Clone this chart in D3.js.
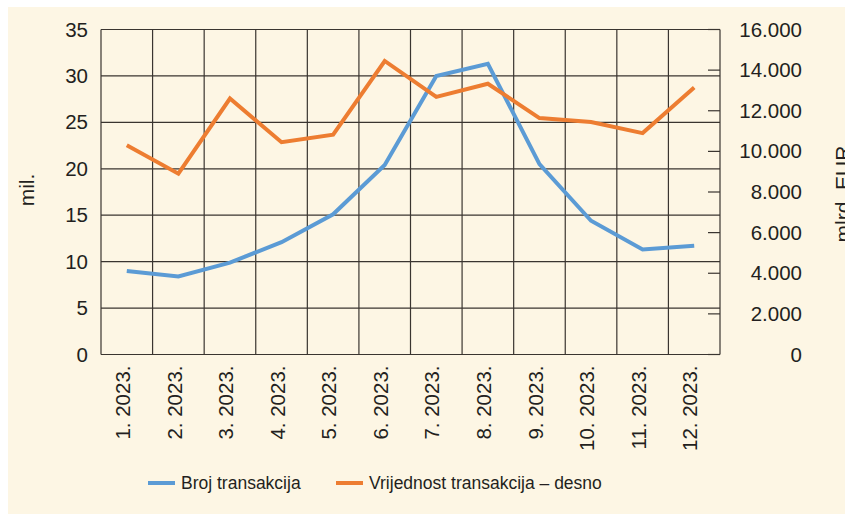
<!DOCTYPE html>
<meta charset="utf-8">
<style>
  body { margin: 0; background: #fff; }
  text { font-family: "Liberation Sans", Arial, sans-serif; fill: #231f20; }
  .tick text { font-size: 20.5px; }
</style>
<script src="https://d3js.org/d3.v7.min.js"></script>
<body>
<script>
  var months = ["1. 2023.", "2. 2023.", "3. 2023.", "4. 2023.", "5. 2023.", "6. 2023.",
                "7. 2023.", "8. 2023.", "9. 2023.", "10. 2023.", "11. 2023.", "12. 2023."];
  // broj transakcija, mil.
  var brojTransakcija = [9.0, 8.4, 9.9, 12.1, 15.1, 20.4, 30.0, 31.3, 20.5, 14.4, 11.3, 11.7];
  // vrijednost transakcija, mlrd. EUR (desno)
  var vrijednost = [10300, 8900, 12600, 10450, 10820, 14450, 12680, 13330, 11640, 11450, 10900, 13140];
  var leftTicks = [0, 5, 10, 15, 20, 25, 30, 35];
  var rightTicks = [0, 2000, 4000, 6000, 8000, 10000, 12000, 14000, 16000];
  var seriesNames = ["Broj transakcija", "Vrijednost transakcija \u2013 desno"];

  var w = 845, h = 514;
  var pLeft = 101, pRight = 720, pTop = 29.5, pBottom = 354.5;
  var blue = "#5b9bd5", orange = "#ed7d31";

  var svg = d3.select("body").append("svg")
              .attr("width", w)
              .attr("height", h);

  svg.append("rect")
     .attr("x", 8).attr("y", 7)
     .attr("width", w - 8).attr("height", h - 7)
     .attr("fill", "#fdf6e4");

  var x = d3.scaleBand().domain(months).range([pLeft, pRight]);
  var yL = d3.scaleLinear().domain([0, 35]).range([pBottom, pTop]);
  var yR = d3.scaleLinear().domain([0, 16000]).range([pBottom, pTop]);

  // grid
  var grid = svg.append("g").attr("stroke", "#3a3530").attr("stroke-width", 1.2);
  grid.selectAll("line.h")
      .data(leftTicks)
      .enter().append("line")
      .attr("x1", pLeft).attr("x2", pRight)
      .attr("y1", function (d) { return yL(d); })
      .attr("y2", function (d) { return yL(d); });
  grid.selectAll("line.v")
      .data(months.slice(1))
      .enter().append("line")
      .attr("x1", function (d) { return x(d); })
      .attr("x2", function (d) { return x(d); })
      .attr("y1", pTop).attr("y2", pBottom);
  grid.append("line").attr("x1", pLeft).attr("x2", pLeft).attr("y1", pTop).attr("y2", pBottom);
  grid.append("line").attr("x1", pRight).attr("x2", pRight).attr("y1", pTop).attr("y2", pBottom);

  // right axis inner ticks
  grid.selectAll("line.rt")
      .data(rightTicks)
      .enter().append("line")
      .attr("x1", pRight - 12).attr("x2", pRight)
      .attr("y1", function (d) { return yR(d); })
      .attr("y2", function (d) { return yR(d); });

  // left axis labels
  var axL = svg.append("g")
     .attr("transform", "translate(" + pLeft + ",0)")
     .call(d3.axisLeft(yL).tickValues(leftTicks).tickSize(0).tickPadding(13));
  axL.select(".domain").remove();

  var fmt = function (d) { return d3.format(",")(d).replace(/,/g, "."); };
  var axR = svg.append("g")
     .attr("transform", "translate(802,0)")
     .call(d3.axisLeft(yR).tickValues(rightTicks).tickSize(0).tickPadding(0).tickFormat(fmt));
  axR.select(".domain").remove();

  // x labels
  var axX = svg.append("g")
     .attr("transform", "translate(0," + pBottom + ")")
     .call(d3.axisBottom(x).tickSize(0));
  axX.select(".domain").remove();
  axX.selectAll("text")
     .attr("transform", "rotate(-90)")
     .attr("text-anchor", "end")
     .attr("x", -11)
     .attr("y", -4)
     .attr("dy", "0.35em");

  // axis titles
  svg.append("text")
     .attr("transform", "translate(34,190) rotate(-90)")
     .attr("text-anchor", "middle")
     .attr("font-size", 21)
     .text("mil.");
  svg.append("text")
     .attr("transform", "translate(850,194) rotate(-90)")
     .attr("text-anchor", "middle")
     .attr("font-size", 21)
     .text("mlrd. EUR");

  // lines
  var lineL = d3.line()
      .x(function (d, i) { return x(months[i]) + x.bandwidth() / 2; })
      .y(function (d) { return yL(d); });
  var lineR = d3.line()
      .x(function (d, i) { return x(months[i]) + x.bandwidth() / 2; })
      .y(function (d) { return yR(d); });

  svg.append("path").datum(brojTransakcija)
     .attr("d", lineL)
     .attr("fill", "none").attr("stroke", blue).attr("stroke-width", 4);
  svg.append("path").datum(vrijednost)
     .attr("d", lineR)
     .attr("fill", "none").attr("stroke", orange).attr("stroke-width", 4);

  // legend
  var legend = [
    { name: seriesNames[0], color: blue, x: 148 },
    { name: seriesNames[1], color: orange, x: 336 }
  ];
  var lg = svg.selectAll("g.legend")
     .data(legend)
     .enter().append("g")
     .attr("transform", function (d) { return "translate(" + d.x + ",483)"; });
  lg.append("line")
    .attr("x1", 0).attr("x2", 27)
    .attr("stroke", function (d) { return d.color; })
    .attr("stroke-width", 4);
  lg.append("text")
    .attr("x", 33).attr("dy", "0.35em")
    .attr("font-size", 17.5)
    .text(function (d) { return d.name; });
</script>
</body>
